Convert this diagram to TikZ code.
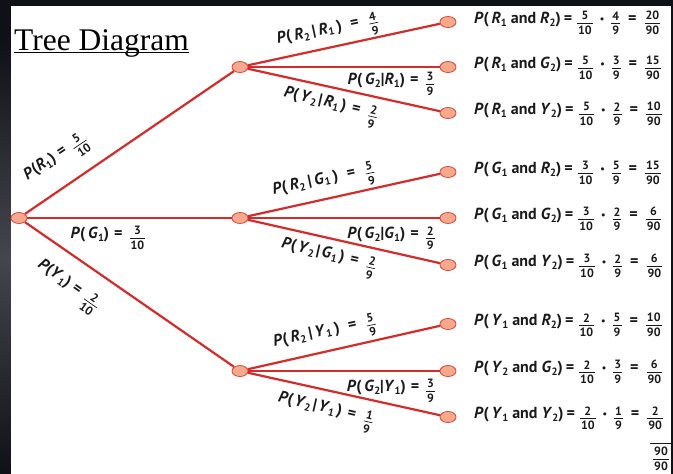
\documentclass[tikz,border=0pt]{standalone}
\usepackage{fontspec}
\setmainfont{Liberation Serif}
\newfontfamily\labfont{PT Sans}
\usetikzlibrary{shapes.geometric}
\definecolor{bgdark}{HTML}{101116}
\definecolor{bggray}{HTML}{45454D}
\definecolor{linered}{HTML}{D42B2B}
\definecolor{dotfill}{HTML}{F6A98C}
\definecolor{dotedge}{HTML}{DC4A3C}
\definecolor{ink}{HTML}{1A1A1A}
\newcommand{\I}[1]{\textit{#1}}
\newcommand{\subx}[1]{\raisebox{-0.35ex}{\fontsize{10.5}{10.5}\selectfont #1}}
\newcommand{\frx}[2]{\raisebox{-4pt}{$\vcenter{\hbox{\fontsize{12}{12}\selectfont\vbox{\offinterlineskip\halign{\hfil\kern1pt##\kern1pt\hfil\cr #1\cr\noalign{\kern2.5pt\hrule height 0.7pt\kern2.5pt}#2\cr}}}}$}}
\newcommand{\dotx}{\hspace{7pt}\raisebox{0.1ex}{\fontsize{10}{10}\selectfont\textbullet}\hspace{7pt}}
\newcommand{\eqa}{\hspace{3pt}=\hspace{5pt}}
\newcommand{\eqb}{\hspace{8pt}=\hspace{8pt}}
\newcommand{\eqx}{\hspace{5pt}=\hspace{7pt}}
\newcommand{\eqr}{\hspace{9pt}=\hspace{10pt}}
\newcommand{\eqy}{\hspace{6pt}=\hspace{9pt}}
\newcommand{\gpr}{\hspace{3pt}}
\newcommand{\gpy}{\hspace{2pt}}
% sloped conditional labels
\newcommand{\condr}[3]{\I{P}(\gpr\I{R}\subx{2}\gpr|\gpr\I{#1}\subx{1}\gpr)\eqr\frx{#2}{#3}}
\newcommand{\condy}[3]{\I{P}(\gpy\I{Y}\subx{2}\gpy|\gpy\I{#1}\subx{1}\gpy)\eqy\frx{#2}{#3}}
\tikzset{
  dotnode/.style={ellipse, draw=dotedge, fill=dotfill, line width=0.8pt, minimum width=16pt, minimum height=11pt, inner sep=0pt},
  branch/.style={draw=linered, line width=2.2pt},
  lab/.style={font=\labfont\bfseries\fontsize{16}{18}\selectfont, text=ink, inner sep=0pt},
  leaflab/.style={lab, anchor=west}
}
\begin{document}
\begin{tikzpicture}[x=1pt,y=-1pt]
\useasboundingbox (0,0) rectangle (673,474);
\fill[bgdark] (0,0) rectangle (673,474);
\shade[top color=bgdark, bottom color=bgdark, middle color=bggray] (0,40) rectangle (11,474);
\fill[white] (11,6) rectangle (671,474);
% title
\node[anchor=base west, font=\fontsize{31.5}{34}\selectfont, inner sep=0pt, text=black] (title) at (14,50) {Tree Diagram};
\draw[line width=1.3pt] ([yshift=-2.5pt]title.base west) -- ([yshift=-2.5pt]title.base east);
% nodes
\node[dotnode] (r0) at (19,218) {};
\node[dotnode] (a) at (240,67) {};
\node[dotnode] (b) at (240,218) {};
\node[dotnode] (c) at (240,371) {};
\node[dotnode] (a1) at (448,22) {};
\node[dotnode] (a2) at (448,67) {};
\node[dotnode] (a3) at (448,113) {};
\node[dotnode] (b1) at (448,172) {};
\node[dotnode] (b2) at (448,218) {};
\node[dotnode] (b3) at (448,265) {};
\node[dotnode] (c1) at (448,324) {};
\node[dotnode] (c2) at (448,371) {};
\node[dotnode] (c3) at (448,417) {};
% branches
\draw[branch] (r0) -- (a);
\draw[branch] (r0) -- (b);
\draw[branch] (r0) -- (c);
\foreach \p in {a,b,c}{
  \draw[branch] (\p) -- (\p1);
  \draw[branch] (\p) -- (\p2);
  \draw[branch] (\p) -- (\p3);
}
% first-level labels
\node[lab, rotate=34] (l1) at (57,160) {\I{P}(\I{R}\subx{1})\eqx\frx{5}{10}};
\node[lab] (l2) at (108,238) {\I{P}(\,\I{G}\subx{1})\eqx\frx{3}{10}};
\node[lab, rotate=-35] (l3) at (67,287) {\I{P}(\I{Y}\subx{1})\eqx\frx{2}{10}};
% second-level labels
\node[lab, rotate=12] (ma1) at (328,33) {\condr{R}{4}{9}};
\node[lab] (ma2) at (391,84) {\I{P}(\,\I{G}\subx{2}|\I{R}\subx{1})\eqx\frx{3}{9}};
\node[lab, rotate=-13] (ma3) at (330,107) {\condy{R}{2}{9}};
\node[lab, rotate=12] (mb1) at (324,183) {\condr{G}{5}{9}};
\node[lab] (mb2) at (391,238) {\I{P}(\,\I{G}\subx{2}|\I{G}\subx{1})\eqx\frx{2}{9}};
\node[lab, rotate=-13] (mb3) at (328,258) {\condy{G}{2}{9}};
\node[lab, rotate=12] (mc1) at (325,335) {\condr{Y}{5}{9}};
\node[lab] (mc2) at (391,391) {\I{P}(\,\I{G}\subx{2}|\I{Y}\subx{1})\eqx\frx{3}{9}};
\node[lab, rotate=-13] (mc3) at (325,412) {\condy{Y}{1}{9}};
% leaf labels
\node[leaflab] (t1) at (474,23) {\I{P}(\,\I{R}\subx{1} and \I{R}\subx{2})\eqa\frx{5}{10}\dotx\frx{4}{9}\eqb\frx{20}{90}};
\node[leaflab] (t2) at (474,68) {\I{P}(\,\I{R}\subx{1} and \I{G}\subx{2})\eqa\frx{5}{10}\dotx\frx{3}{9}\eqb\frx{15}{90}};
\node[leaflab] (t3) at (474,114) {\I{P}(\,\I{R}\subx{1} and \I{Y}\subx{2})\eqa\frx{5}{10}\dotx\frx{2}{9}\eqb\frx{10}{90}};
\node[leaflab] (t4) at (474,173) {\I{P}(\,\I{G}\subx{1} and \I{R}\subx{2})\eqa\frx{3}{10}\dotx\frx{5}{9}\eqb\frx{15}{90}};
\node[leaflab] (t5) at (474,219) {\I{P}(\,\I{G}\subx{1} and \I{G}\subx{2})\eqa\frx{3}{10}\dotx\frx{2}{9}\eqb\frx{6}{90}};
\node[leaflab] (t6) at (474,266) {\I{P}(\,\I{G}\subx{1} and \I{Y}\subx{2})\eqa\frx{3}{10}\dotx\frx{2}{9}\eqb\frx{6}{90}};
\node[leaflab] (t7) at (474,325) {\I{P}(\,\I{Y}\subx{1} and \I{R}\subx{2})\eqa\frx{2}{10}\dotx\frx{5}{9}\eqb\frx{10}{90}};
\node[leaflab] (t8) at (474,372) {\I{P}(\,\I{Y}\subx{2} and \I{G}\subx{2})\eqa\frx{2}{10}\dotx\frx{3}{9}\eqb\frx{6}{90}};
\node[leaflab] (t9) at (474,418) {\I{P}(\,\I{Y}\subx{1} and \I{Y}\subx{2})\eqa\frx{2}{10}\dotx\frx{1}{9}\eqb\frx{2}{90}};
% total
\coordinate (ru1) at (650,443);
\coordinate (ru2) at (671,443);
\draw[line width=0.8pt, ink] (ru1) -- (ru2);
\node[lab] (tot) at (661,459) {\frx{90}{90}};
\end{tikzpicture}
\end{document}
